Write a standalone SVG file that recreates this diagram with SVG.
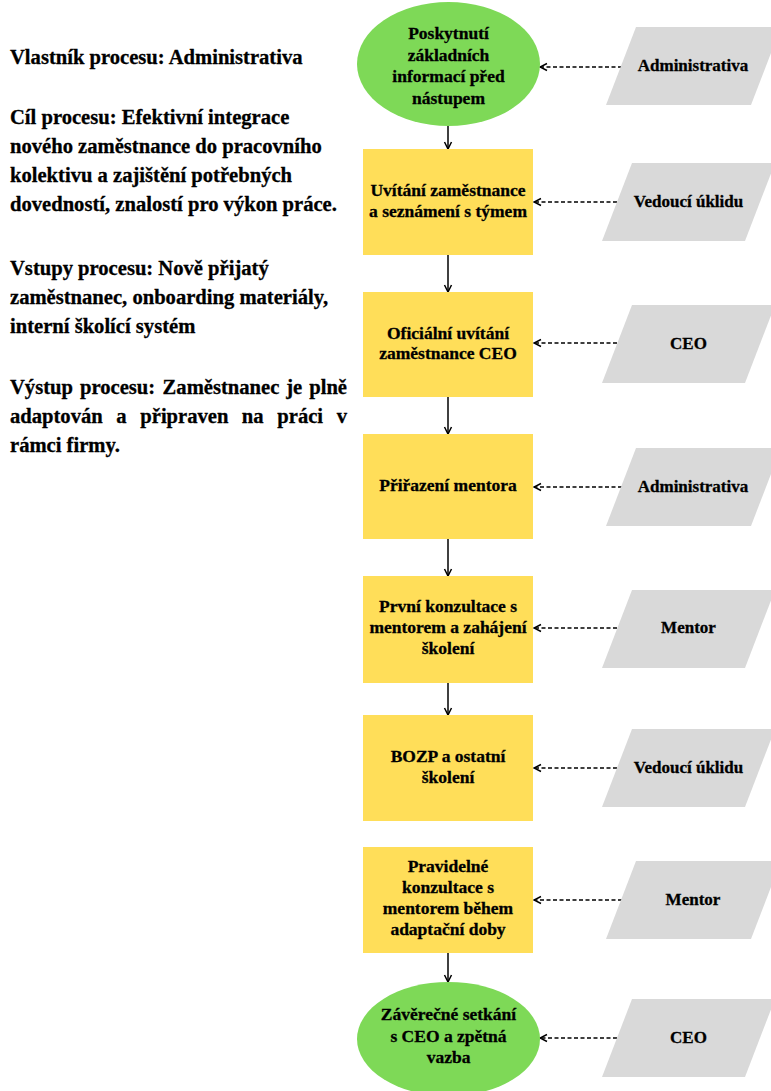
<svg xmlns="http://www.w3.org/2000/svg" width="771" height="1091" viewBox="0 0 771 1091">
  <style>
    text { font-family: "Liberation Serif", "Times New Roman", serif; font-weight: 700; fill: #000; stroke: #000; stroke-width: 0.3; }
    .info { font-size: 20.6px; }
    .node { font-size: 17.5px; text-anchor: middle; }
    .role { font-size: 17px; text-anchor: middle; }
    .start { fill: #7ED957; }
    .step { fill: #FFDE59; }
    .actor { fill: #D9D9D9; }
    .flow { stroke: #000; stroke-width: 1.5; fill: none; }
    .input { stroke: #000; stroke-width: 1.5; fill: none; stroke-dasharray: 4 2.5; }
  </style>
  <defs>
    <marker id="head" viewBox="0 0 10 10" refX="9" refY="5" markerWidth="10" markerHeight="10" markerUnits="userSpaceOnUse" orient="auto">
      <path d="M2,1.5 L9,5 L2,8.5" fill="none" stroke="#000" stroke-width="1.5"/>
    </marker>
  </defs>

  <rect width="771" height="1091" fill="#fff"/>

  <!-- process description -->
  <g id="info">
    <text class="info" x="10" y="64">Vlastník procesu: Administrativa</text>
    <text class="info" x="10" y="124">Cíl procesu: Efektivní integrace</text>
    <text class="info" x="10" y="153">nového zaměstnance do pracovního</text>
    <text class="info" x="10" y="182">kolektivu a zajištění potřebných</text>
    <text class="info" x="10" y="211">dovedností, znalostí pro výkon práce.</text>
    <text class="info" x="10" y="275">Vstupy procesu: Nově přijatý</text>
    <text class="info" x="10" y="304">zaměstnanec, onboarding materiály,</text>
    <text class="info" x="10" y="333">interní školící systém</text>
    <text class="info" y="394"><tspan x="10">Výstup</tspan> <tspan x="80">procesu:</tspan> <tspan x="162.6">Zaměstnanec</tspan> <tspan x="286.2">je</tspan> <tspan x="347" text-anchor="end">plně</tspan></text>
    <text class="info" y="423"><tspan x="10">adaptován</tspan> <tspan x="116.2">a</tspan> <tspan x="140.3">připraven</tspan> <tspan x="241.8">na</tspan> <tspan x="277.3">práci</tspan> <tspan x="347" text-anchor="end">v</tspan></text>
    <text class="info" x="10" y="452">rámci firmy.</text>
  </g>

  <!-- connectors -->
  <g id="connectors">
    <line class="flow" x1="448" y1="126" x2="448" y2="149" marker-end="url(#head)"/>
    <line class="flow" x1="448" y1="255" x2="448" y2="292" marker-end="url(#head)"/>
    <line class="flow" x1="448" y1="397" x2="448" y2="434" marker-end="url(#head)"/>
    <line class="flow" x1="448" y1="539" x2="448" y2="576" marker-end="url(#head)"/>
    <line class="flow" x1="448" y1="683" x2="448" y2="715" marker-end="url(#head)"/>
    <line class="flow" x1="448" y1="953" x2="448" y2="982" marker-end="url(#head)"/>

    <line class="input" x1="622" y1="67" x2="540" y2="67" marker-end="url(#head)"/>
    <line class="input" x1="617" y1="202" x2="534" y2="202" marker-end="url(#head)"/>
    <line class="input" x1="617" y1="343" x2="534" y2="343" marker-end="url(#head)"/>
    <line class="input" x1="622" y1="487" x2="534" y2="487" marker-end="url(#head)"/>
    <line class="input" x1="617" y1="628" x2="534" y2="628" marker-end="url(#head)"/>
    <line class="input" x1="617" y1="768" x2="534" y2="768" marker-end="url(#head)"/>
    <line class="input" x1="622" y1="900" x2="534" y2="900" marker-end="url(#head)"/>
    <line class="input" x1="617" y1="1038" x2="540" y2="1038" marker-end="url(#head)"/>
  </g>

  <!-- process steps -->
  <g id="step1">
    <ellipse class="start" cx="448.5" cy="64" rx="91.5" ry="62"/>
    <text class="node" x="448.5" y="39">Poskytnutí</text>
    <text class="node" x="448.5" y="60.5">základních</text>
    <text class="node" x="448.5" y="82">informací před</text>
    <text class="node" x="448.5" y="103.5">nástupem</text>
  </g>
  <g id="step2">
    <rect class="step" x="363" y="149" width="170" height="106"/>
    <text class="node" x="448" y="195.5">Uvítání zaměstnance</text>
    <text class="node" x="448" y="217">a seznámení s týmem</text>
  </g>
  <g id="step3">
    <rect class="step" x="363" y="292" width="170" height="105"/>
    <text class="node" x="448" y="338.5">Oficiální uvítání</text>
    <text class="node" x="448" y="359">zaměstnance CEO</text>
  </g>
  <g id="step4">
    <rect class="step" x="363" y="434" width="170" height="105"/>
    <text class="node" x="448" y="491">Přiřazení mentora</text>
  </g>
  <g id="step5">
    <rect class="step" x="363" y="576" width="170" height="107"/>
    <text class="node" x="448" y="612">První konzultace s</text>
    <text class="node" x="448" y="633">mentorem a zahájení</text>
    <text class="node" x="448" y="653.5">školení</text>
  </g>
  <g id="step6">
    <rect class="step" x="363" y="715" width="170" height="106"/>
    <text class="node" x="448" y="762">BOZP a ostatní</text>
    <text class="node" x="448" y="783">školení</text>
  </g>
  <g id="step7">
    <rect class="step" x="363" y="847" width="170" height="106"/>
    <text class="node" x="448" y="872">Pravidelné</text>
    <text class="node" x="448" y="893">konzultace s</text>
    <text class="node" x="448" y="914">mentorem během</text>
    <text class="node" x="448" y="935">adaptační doby</text>
  </g>
  <g id="step8">
    <ellipse class="start" cx="448.5" cy="1039" rx="91.5" ry="57"/>
    <text class="node" x="448.5" y="1020">Závěrečné setkání</text>
    <text class="node" x="448.5" y="1041.5">s CEO a zpětná</text>
    <text class="node" x="448.5" y="1062.5">vazba</text>
  </g>

  <!-- responsible roles -->
  <g id="role1">
    <polygon class="actor" points="636,27 781,27 751,105 606,105"/>
    <text class="role" x="693" y="71">Administrativa</text>
  </g>
  <g id="role2">
    <polygon class="actor" points="632,163 775,163 745,241 602,241"/>
    <text class="role" x="688.5" y="207">Vedoucí úklidu</text>
  </g>
  <g id="role3">
    <polygon class="actor" points="632,305 775,305 745,383 602,383"/>
    <text class="role" x="688.5" y="348.5">CEO</text>
  </g>
  <g id="role4">
    <polygon class="actor" points="636,448 781,448 751,526 606,526"/>
    <text class="role" x="693" y="491.5">Administrativa</text>
  </g>
  <g id="role5">
    <polygon class="actor" points="632,590 775,590 745,668 602,668"/>
    <text class="role" x="688.5" y="633">Mentor</text>
  </g>
  <g id="role6">
    <polygon class="actor" points="632,729 775,729 745,807 602,807"/>
    <text class="role" x="688.5" y="773">Vedoucí úklidu</text>
  </g>
  <g id="role7">
    <polygon class="actor" points="636,861 781,861 751,939 606,939"/>
    <text class="role" x="693" y="905">Mentor</text>
  </g>
  <g id="role8">
    <polygon class="actor" points="632,999 775,999 745,1077 602,1077"/>
    <text class="role" x="688.5" y="1042.5">CEO</text>
  </g>
</svg>
